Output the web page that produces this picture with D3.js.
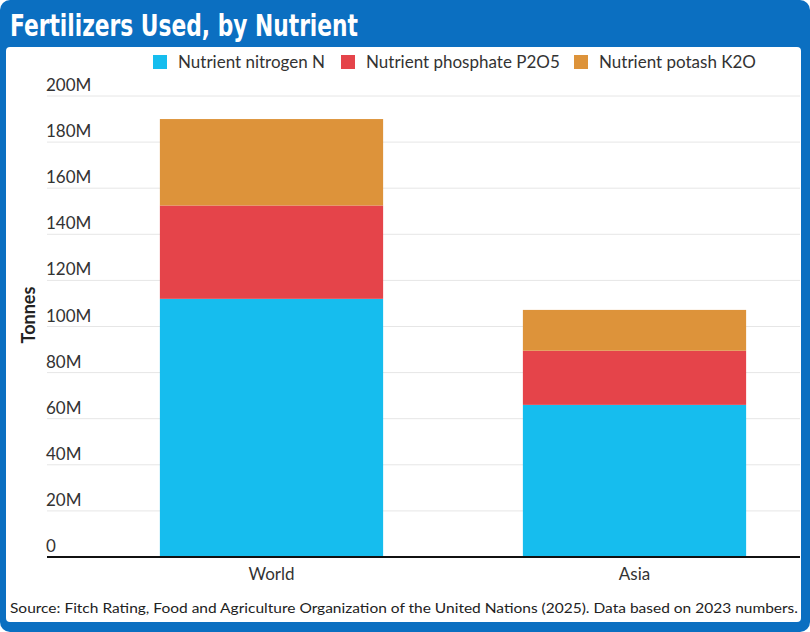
<!DOCTYPE html>
<html><head><meta charset="utf-8">
<script src="https://cdn.jsdelivr.net/npm/d3@7"></script>
<style>body{margin:0;background:#fff}svg{display:block}</style>
</head><body>
<svg id="c" width="810" height="632"></svg>
<script>
const categories = ["World", "Asia"];
const seriesNames = ["Nutrient nitrogen N", "Nutrient phosphate P2O5", "Nutrient potash K2O"];
const nitrogen = [112, 66];
const phosphate = [40.5, 23.5];
const potash = [37.5, 17.7];
const yTicks = [0, 20, 40, 60, 80, 100, 120, 140, 160, 180, 200];
const colors = ["#16bdee", "#e5444a", "#dd933a"];

const svg = d3.select("#c");
const font = "Lato, 'Open Sans', sans-serif";

// frame
svg.append("rect").attr("x",0).attr("y",0).attr("width",810).attr("height",632).attr("rx",10).attr("fill","#0b6fc1");
svg.append("rect").attr("x",6).attr("y",47).attr("width",795).attr("height",575).attr("rx",4).attr("fill","#fff");
svg.append("text").attr("x",10).attr("y",36).attr("fill","#fff")
  .attr("font-family","'Liberation Sans Narrow','DejaVu Sans Condensed',sans-serif")
  .attr("font-weight","bold").attr("font-size",31).attr("textLength",348).attr("lengthAdjust","spacingAndGlyphs")
  .text("Fertilizers Used, by Nutrient");

const rows = categories.map((c,i)=>({cat:c, n:nitrogen[i], p:phosphate[i], k:potash[i]}));
const stack = d3.stack().keys(["n","p","k"])(rows);

const y = d3.scaleLinear().domain([0,200]).range([557,96]);
const x = d3.scaleBand().domain(categories).range([90,816]);
const bw = x.bandwidth()*0.615;

// grid
const g = svg.append("g");
g.selectAll("line.grid").data(yTicks.filter(t=>t>0)).join("line")
  .attr("x1",47).attr("x2",800).attr("y1",d=>y(d)).attr("y2",d=>y(d))
  .attr("stroke","#e6e6e6").attr("stroke-width",1);
g.selectAll("text.yl").data(yTicks).join("text")
  .attr("x",46).attr("y",d=>y(d)-5).attr("font-family",font).attr("font-size",17).attr("fill","#333")
  .text(d=>d===0?"0":d+"M");

// bars
stack.forEach((s,si)=>{
  svg.append("g").selectAll("rect").data(s).join("rect")
    .attr("x",d=>x(d.data.cat)+x.bandwidth()/2-bw/2).attr("width",bw)
    .attr("y",d=>y(d[1])).attr("height",d=>y(d[0])-y(d[1]))
    .attr("fill",colors[si]);
});

// baseline
svg.append("line").attr("x1",47).attr("x2",800).attr("y1",557).attr("y2",557).attr("stroke","#111").attr("stroke-width",2);

// x labels
svg.selectAll("text.xl").data(categories).join("text")
  .attr("x",d=>x(d)+x.bandwidth()/2).attr("y",580).attr("text-anchor","middle")
  .attr("font-family",font).attr("font-size",17).attr("fill","#333").text(d=>d);

// y title
svg.append("text").attr("transform","translate(35,315) rotate(-90)").attr("text-anchor","middle")
  .attr("font-family",font).attr("font-weight","bold").attr("font-size",18).attr("fill","#222").text("Tonnes");

// legend
const legX = [153, 341, 574];
seriesNames.forEach((nm,i)=>{
  svg.append("rect").attr("x",legX[i]).attr("y",55).attr("width",14).attr("height",14).attr("fill",colors[i]);
  svg.append("text").attr("x",legX[i]+25).attr("y",68).attr("font-family",font).attr("font-size",17).attr("fill","#333").text(nm);
});

// source
svg.append("text").attr("x",10).attr("y",613).attr("font-family",font).attr("font-size",14).attr("fill","#222")
  .attr("textLength",788).attr("lengthAdjust","spacingAndGlyphs")
  .text("Source: Fitch Rating, Food and Agriculture Organization of the United Nations (2025). Data based on 2023 numbers.");
</script>
</body></html>
